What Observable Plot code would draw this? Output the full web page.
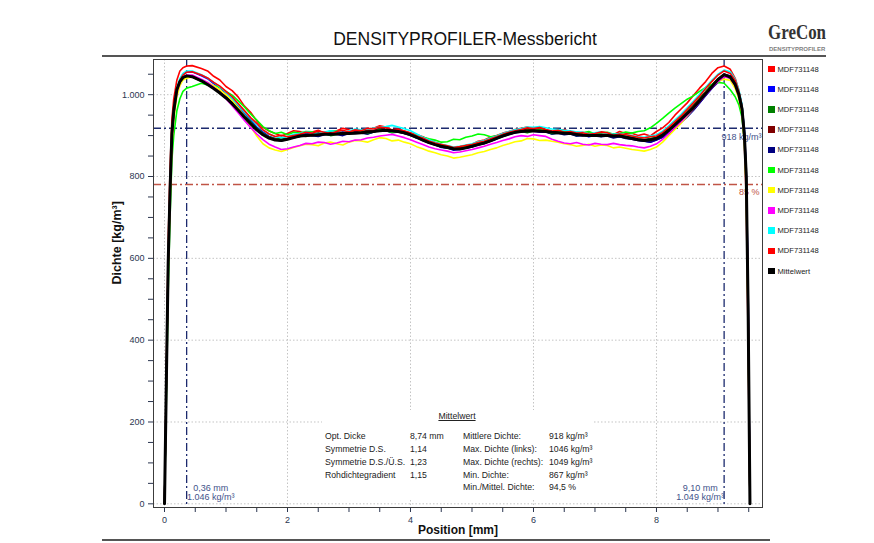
<!DOCTYPE html>
<html><head><meta charset="utf-8">
<script src="https://cdn.jsdelivr.net/npm/d3@7"></script>
<script src="https://cdn.jsdelivr.net/npm/@observablehq/plot@0.6"></script>
<style>
body{margin:0;background:#fff;font-family:"Liberation Sans",Arial,sans-serif;}
#wrap{position:relative;width:874px;height:543px;overflow:hidden;background:#fff}
#chart{position:absolute;left:0;top:0}
.abs{position:absolute;white-space:nowrap}
</style></head>
<body><div id="wrap"><div id="chart"></div></div>
<script>
// ---------- data ----------
const positions = [0, 0.03, 0.06, 0.09, 0.12, 0.15, 0.2, 0.25, 0.3, 0.36,
  0.45, 0.6, 0.7, 0.8, 0.9, 1.0, 1.1, 1.2, 1.3, 1.4,
  1.5, 1.6, 1.7, 1.8, 1.9, 2.0, 2.1, 2.2, 2.3, 2.4,
  2.5, 2.6, 2.7, 2.8, 2.9, 3.0, 3.1, 3.2, 3.3, 3.4,
  3.5, 3.6, 3.7, 3.8, 3.9, 4.0, 4.1, 4.2, 4.3, 4.4,
  4.5, 4.6, 4.7, 4.8, 4.9, 5.0, 5.1, 5.2, 5.3, 5.4,
  5.5, 5.6, 5.7, 5.8, 5.9, 6.0, 6.1, 6.2, 6.3, 6.4,
  6.5, 6.6, 6.7, 6.8, 6.9, 7.0, 7.1, 7.2, 7.3, 7.4,
  7.5, 7.6, 7.7, 7.8, 7.9, 8.0, 8.1, 8.2, 8.3, 8.4,
  8.5, 8.6, 8.7, 8.8, 8.9, 9.0, 9.1,
  9.2, 9.28, 9.34, 9.39, 9.43, 9.46, 9.49, 9.52];

const seriesNames = ["MDF731148","MDF731148","MDF731148","MDF731148","MDF731148",
  "MDF731148","MDF731148","MDF731148","MDF731148","MDF731148","Mittelwert"];

const mdf1 = [0,330,640,820,940,990,1035,1058,1066,1070,
  1071,1064,1058,1045,1036,1020,1010,994,972,957,
  936,920,911,905,899,905,912,910,904,909,
  913,905,909,912,918,914,908,911,916,918,
  924,921,914,916,911,907,903,897,890,884,
  879,874,869,872,876,879,886,889,896,900,
  906,910,915,918,921,916,919,914,910,912,
  915,909,906,908,902,903,908,906,902,910,
  905,906,900,904,899,910,919,932,950,965,
  980,998,1016,1032,1052,1066,1070,
  1062,1040,1010,960,880,740,400,0];
const mdf2 = [0,290,580,760,900,958,1012,1036,1050,1055,
  1056,1046,1039,1027,1017,1003,990,972,956,938,
  921,909,898,893,889,893,898,900,905,902,
  903,905,901,906,909,906,910,909,906,912,
  916,914,909,911,907,903,895,890,884,878,
  871,870,864,866,869,872,877,881,887,892,
  899,904,907,911,914,913,909,911,906,908,
  904,906,900,902,897,901,903,900,896,898,
  895,892,889,887,884,890,896,906,918,932,
  946,962,980,998,1015,1032,1050,
  1046,1030,1005,972,910,810,520,0];
const mdf3 = [0,300,590,760,895,952,1006,1028,1040,1044,
  1043,1033,1027,1016,1003,994,981,966,949,934,
  918,906,897,892,895,892,896,898,903,901,
  906,904,900,903,907,905,911,908,904,909,
  914,912,907,909,905,902,897,890,886,880,
  877,874,870,872,874,876,881,884,889,894,
  901,905,908,910,907,911,913,910,904,906,
  908,905,899,902,904,901,898,901,903,900,
  898,895,892,890,893,896,904,916,930,944,
  959,974,991,1008,1024,1038,1046,
  1040,1022,998,962,895,790,470,0];
const mdf4 = [0,305,600,765,900,956,1008,1030,1041,1045,
  1044,1035,1028,1017,1008,995,979,964,946,930,
  915,903,896,891,889,893,897,900,898,903,
  907,904,908,906,903,907,911,909,913,912,
  917,915,912,911,908,903,898,891,884,880,
  874,872,868,870,871,875,880,884,890,895,
  902,906,910,912,916,914,911,912,909,909,
  904,907,905,903,906,902,900,902,904,901,
  897,895,891,890,888,895,903,915,928,942,
  957,972,989,1006,1022,1038,1050,
  1045,1028,1003,970,905,800,490,0];
const mdf5 = [0,295,590,765,900,955,1008,1030,1042,1047,
  1045,1035,1027,1016,1006,993,980,963,945,930,
  916,903,893,890,887,891,895,898,902,900,
  898,902,905,903,900,905,908,906,904,909,
  913,912,908,909,905,901,894,888,882,877,
  872,870,866,868,870,873,878,881,886,892,
  898,903,907,909,912,911,908,909,904,906,
  902,904,899,900,902,899,897,899,894,897,
  893,891,888,886,884,889,896,906,918,932,
  946,962,980,998,1016,1030,1046,
  1046,1032,1008,975,915,820,540,0];
const mdf6 = [0,260,520,700,840,900,960,990,1008,1016,
  1020,1028,1024,1022,1018,1008,999,985,970,953,
  938,922,912,905,908,902,908,906,910,909,
  904,905,912,911,906,908,914,912,907,909,
  915,913,908,911,906,904,900,896,892,889,
  884,885,891,890,896,899,904,902,897,899,
  903,906,911,909,913,911,915,912,906,908,
  911,910,905,907,910,904,907,908,903,905,
  909,906,910,912,919,930,942,955,967,978,
  989,997,1008,1018,1025,1030,1028,
  1012,995,975,945,885,770,450,0];
const mdf7 = [0,290,570,740,880,940,995,1022,1036,1040,
  1043,1036,1030,1022,1012,1000,986,968,946,922,
  899,880,870,865,861,866,871,875,879,878,
  875,882,884,880,877,884,888,887,884,890,
  895,893,887,889,884,880,873,868,862,858,
  853,850,845,847,850,853,858,861,866,870,
  876,880,885,887,893,892,888,889,886,884,
  880,878,874,876,879,874,877,876,870,872,
  869,866,864,862,866,872,884,900,915,930,
  948,965,986,1005,1021,1033,1038,
  1035,1015,990,955,885,770,450,0];
const mdf8 = [0,295,580,755,890,950,1005,1030,1042,1048,
  1048,1038,1030,1018,1005,990,973,955,937,920,
  904,890,879,872,866,868,872,876,881,880,
  884,883,879,882,886,885,889,890,894,896,
  899,901,903,899,895,890,884,878,872,868,
  865,862,858,860,863,866,870,874,879,883,
  888,892,897,900,898,902,900,898,891,886,
  882,880,883,879,877,881,879,878,881,878,
  876,875,872,870,874,880,891,905,920,934,
  950,965,982,1000,1017,1032,1044,
  1040,1022,996,962,895,785,470,0];
const mdf9 = [0,305,600,770,905,962,1015,1040,1052,1058,
  1058,1049,1041,1030,1019,1006,991,975,958,942,
  927,914,904,898,895,898,903,905,909,907,
  905,909,912,910,907,911,916,914,916,918,
  921,922,925,921,917,912,904,896,890,884,
  879,876,872,874,877,880,885,888,894,899,
  905,910,914,917,921,920,922,919,916,915,
  913,912,909,908,904,907,909,906,903,905,
  902,900,897,896,899,902,911,924,938,952,
  968,984,1001,1018,1035,1050,1060,
  1056,1038,1012,976,908,800,490,0];
const mdf10 = [0,300,590,760,895,955,1010,1035,1048,1055,
  1056,1048,1041,1030,1021,1008,995,978,961,944,
  930,914,904,898,901,897,900,903,908,906,
  911,908,905,910,913,909,914,912,918,916,
  921,919,913,915,911,906,899,894,887,882,
  878,875,871,873,876,878,883,886,892,897,
  903,908,912,915,919,917,920,915,911,913,
  908,910,906,907,903,905,909,907,901,904,
  902,899,896,894,897,899,908,920,934,948,
  964,980,997,1015,1032,1048,1058,
  1052,1035,1008,972,905,800,500,0];
const mittelwert = [0,300,590,765,905,960,1012,1032,1042,1046,
  1044,1034,1025,1015,1004,992,978,962,945,929,
  914,902,894,889,888,891,895,899,900,901,
  902,903,903,904,906,905,906,907,909,910,
  912,913,912,910,907,902,896,889,883,878,
  874,871,868,867,870,874,878,882,887,893,
  899,904,908,910,911,912,911,910,908,907,
  906,905,903,901,900,900,901,900,899,899,
  896,893,890,888,890,893,901,913,926,940,
  954,968,985,1003,1020,1037,1049,
  1043,1025,1000,966,900,800,480,0];

const meanDensity = 918;
const thresholdShare = 0.85;
const peakPos = [0.36, 9.10];
const peakDens = [1046, 1049];

const xTicks = [0, 2, 4, 6, 8];
const yTicks = [0, 200, 400, 600, 800, 1000];
const yTickLabels = ["0", "200", "400", "600", "800", "1.000"];

const statTitle = "Mittelwert";
const statLabelsL = ["Opt. Dicke", "Symmetrie D.S.", "Symmetrie D.S./Ü.S.", "Rohdichtegradient"];
const statValuesL = ["8,74 mm", "1,14", "1,23", "1,15"];
const statLabelsR = ["Mittlere Dichte:", "Max. Dichte (links):", "Max. Dichte (rechts):", "Min. Dichte:", "Min./Mittel. Dichte:"];
const statValuesR = ["918 kg/m³", "1046 kg/m³", "1049 kg/m³", "867 kg/m³", "94,5 %"];

// ---------- styling ----------
const allSeries = [mdf1, mdf2, mdf3, mdf4, mdf5, mdf6, mdf7, mdf8, mdf9, mdf10, mittelwert];
const lineColors = ["#ff0000","#0000ff","#008000","#800000","#000080","#00ff00","#ffff00","#ff00ff","#00ffff","#ff0000","#000000"];
const navy = "#1c2a6e", redRef = "#c05446", annBlue = "#42528a";

const de = d3.formatLocale({decimal: ",", thousands: ".", grouping: [3], currency: ["", " €"]});
const fmtInt = de.format(",.0f"), fmt2 = de.format(".2f");

const lineMarks = allSeries.map((vals, i) => Plot.line(
  positions.map((p, j) => ({pos: p, dichte: vals[j]})),
  {x: "pos", y: "dichte", stroke: lineColors[i], strokeWidth: i === allSeries.length - 1 ? 3 : 1.6, strokeLinejoin: "round"}
));

const grid = {stroke: "#c4c4c4", strokeDasharray: "1.5,2", strokeWidth: 1};
const dashDot = "8,3,2,3";

const chart = Plot.plot({
  width: 874, height: 543,
  marginTop: 59, marginBottom: 36, marginLeft: 153, marginRight: 112,
  style: {fontFamily: "'Liberation Sans', Arial, sans-serif", fontSize: "9px", color: "#2b3650", background: "transparent"},
  x: {domain: [-0.179, 9.724], ticks: d3.range(0, 9.51, 0.5), tickFormat: d => xTicks.includes(d) ? String(d) : "", tickSize: 5, label: null},
  y: {domain: [-9, 1086], ticks: d3.range(0, 1051, 50), tickFormat: d => { const k = yTicks.indexOf(d); return k >= 0 ? yTickLabels[k] : ""; }, tickSize: 5, label: null},
  marks: [
    Plot.ruleX(xTicks, {x: d => d, ...grid}),
    Plot.ruleY(yTicks, {y: d => d, ...grid}),
    Plot.ruleY([meanDensity], {y: d => d, stroke: navy, strokeWidth: 1.3, strokeDasharray: dashDot}),
    Plot.ruleY([meanDensity * thresholdShare], {y: d => d, stroke: redRef, strokeWidth: 1.5, strokeDasharray: dashDot}),
    Plot.ruleX(peakPos, {x: d => d, stroke: navy, strokeWidth: 1.3, strokeDasharray: dashDot}),
    Plot.text([meanDensity], {y: d => d, frameAnchor: "right", textAnchor: "end", dx: -1, dy: 8.5, text: d => fmtInt(d) + " kg/m³", fill: annBlue, fontSize: 9}),
    Plot.text([thresholdShare], {y: d => meanDensity * d, frameAnchor: "right", textAnchor: "end", dx: -3, dy: 8, text: d => Math.round(d * 100) + " %", fill: redRef, fontSize: 9}),
    Plot.text([0], {x: i => peakPos[i], frameAnchor: "bottom", dx: 24, dy: -17, text: i => fmt2(peakPos[i]) + " mm", fill: annBlue, fontSize: 9}),
    Plot.text([0], {x: i => peakPos[i], frameAnchor: "bottom", dx: 24, dy: -8, text: i => fmtInt(peakDens[i]) + " kg/m³", fill: annBlue, fontSize: 9}),
    Plot.text([1], {x: i => peakPos[i], frameAnchor: "bottom", dx: -24, dy: -17, text: i => fmt2(peakPos[i]) + " mm", fill: annBlue, fontSize: 9}),
    Plot.text([1], {x: i => peakPos[i], frameAnchor: "bottom", dx: -24, dy: -8, text: i => fmtInt(peakDens[i]) + " kg/m³", fill: annBlue, fontSize: 9}),
    ...lineMarks,
    Plot.frame({stroke: "#3c3c3c", strokeWidth: 1}),
    Plot.text(["Position [mm]"], {frameAnchor: "bottom", dy: 26, text: d => d, fontWeight: "bold", fontSize: 12, fill: "#111"}),
    Plot.text(["Dichte [kg/m³]"], {frameAnchor: "left", rotate: -90, dx: -37, dy: 1, text: d => d, fontWeight: "bold", fontSize: 12.5, fill: "#111"})
  ]
});
document.getElementById("chart").appendChild(chart);

// ---------- page furniture ----------
const wrap = document.getElementById("wrap");
function add(html, style) {
  const el = document.createElement("div");
  el.className = "abs";
  el.innerHTML = html;
  Object.assign(el.style, style);
  wrap.appendChild(el);
  return el;
}
// rules
add("", {left: "102px", top: "55px", width: "724px", height: "2px", background: "#555"});
add("", {left: "102px", top: "539px", width: "668px", height: "1.5px", background: "#555"});
// title
add("DENSITYPROFILER-Messbericht", {left: "265px", top: "29px", width: "400px", textAlign: "center", fontSize: "17.5px", lineHeight: "20px", color: "#111"});
// logo
add("GreCon", {left: "768px", top: "20px", fontFamily: "'Liberation Serif','Times New Roman',serif", fontWeight: "bold", fontSize: "22px", lineHeight: "24px", color: "#333", transform: "scaleX(0.77)", transformOrigin: "left top"});
add("DENSITYPROFILER", {left: "769px", top: "46px", fontSize: "6px", lineHeight: "7px", fontWeight: "bold", color: "#808080"});
// legend
seriesNames.forEach((name, i) => {
  add(`<span style="display:inline-block;width:6.5px;height:6.5px;background:${lineColors[i]};margin-right:3px"></span><span>${name}</span>`,
    {left: "768px", top: (59 + i * 20.2) + "px", height: "20px", display: "flex", alignItems: "center", fontSize: "7.6px", color: "#222"});
});
// statistics box
add("", {left: "322px", top: "410px", width: "270px", height: "89px", background: "#fff"});
add(statTitle, {left: "407px", top: "410px", width: "100px", textAlign: "center", fontSize: "8.7px", lineHeight: "13px", color: "#222", textDecoration: "underline"});
statLabelsL.forEach((t, i) => add(t, {left: "325px", top: (430.2 + i * 12.8) + "px", fontSize: "8.7px", lineHeight: "13px", color: "#222"}));
statValuesL.forEach((t, i) => add(t, {left: "410px", top: (430.2 + i * 12.8) + "px", fontSize: "8.7px", lineHeight: "13px", color: "#222"}));
statLabelsR.forEach((t, i) => add(t, {left: "463px", top: (430.2 + i * 12.8) + "px", fontSize: "8.7px", lineHeight: "13px", color: "#222"}));
statValuesR.forEach((t, i) => add(t, {left: "549px", top: (430.2 + i * 12.8) + "px", fontSize: "8.7px", lineHeight: "13px", color: "#222"}));
</script>
</body></html>
